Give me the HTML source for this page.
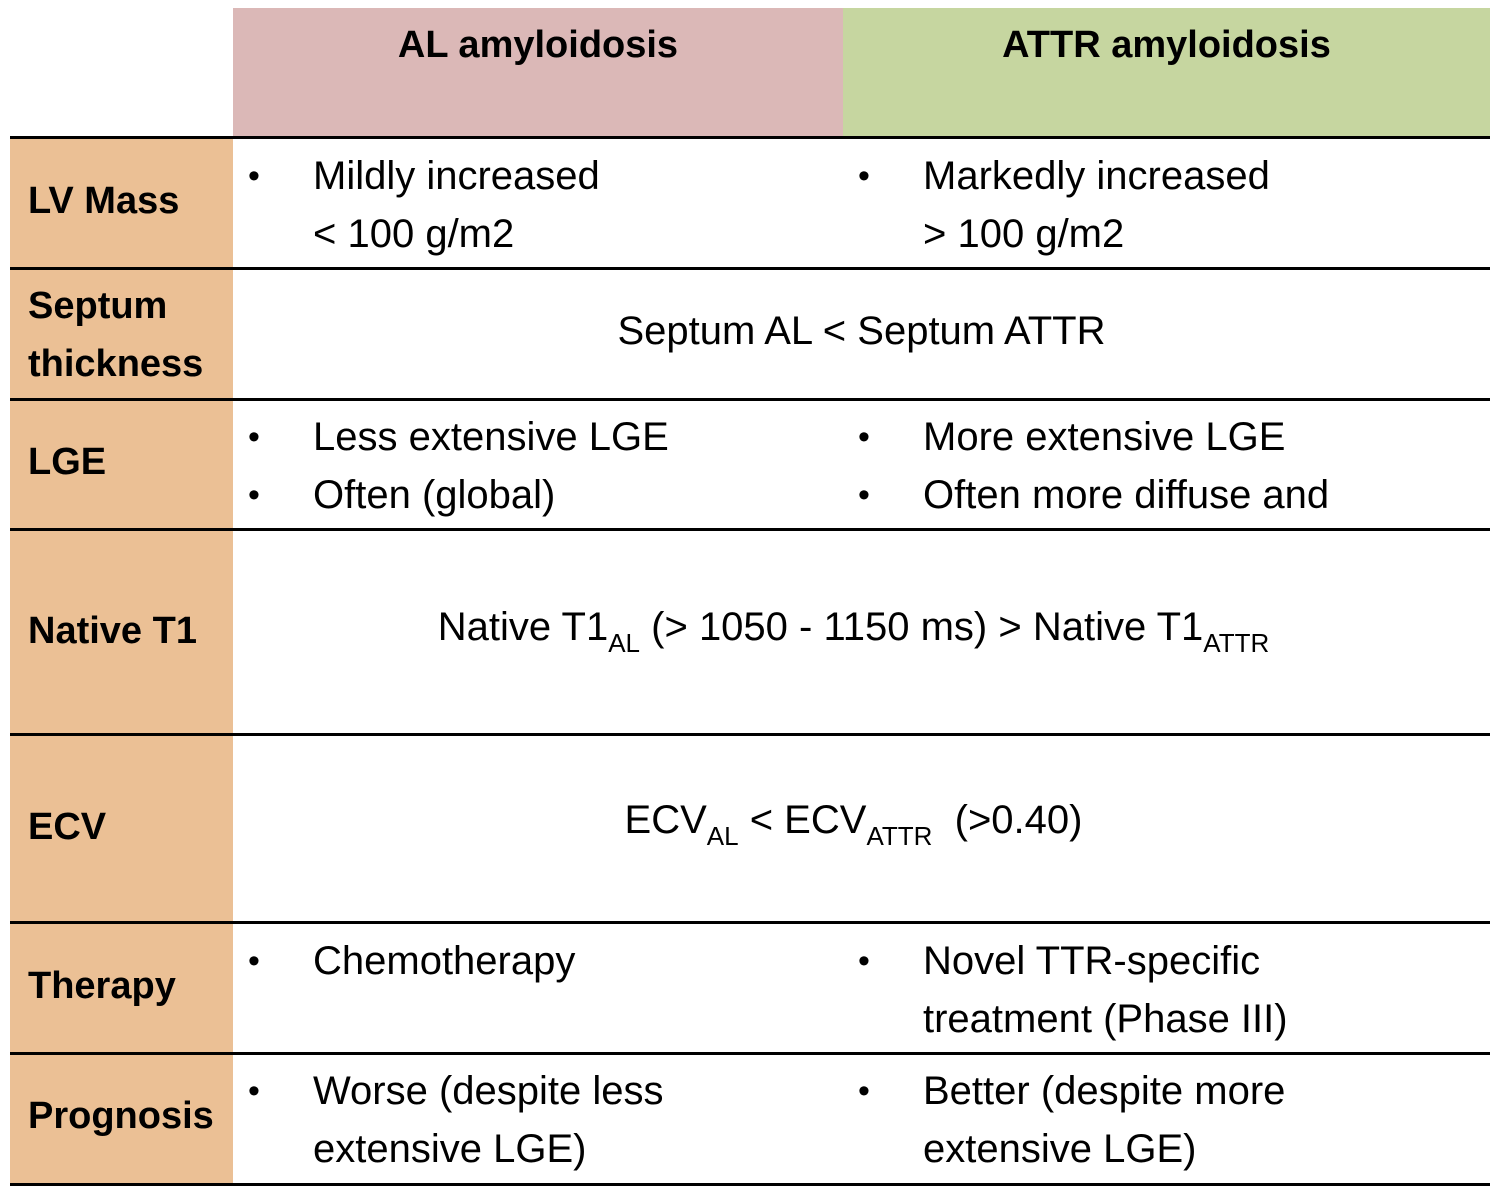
<!DOCTYPE html>
<html><head><meta charset="utf-8"><style>
body{margin:0;width:1500px;height:1198px;background:#fff;position:relative;overflow:hidden;font-family:"Liberation Sans",sans-serif;color:#000}
div{position:absolute}
.hl{left:10px;width:1480px;height:3px;background:#000}
.lab{left:28px;font-weight:bold;font-size:38px;line-height:58px;white-space:nowrap}
.t{font-size:40px;line-height:58px;white-space:nowrap}
.c{left:233px;width:1257px;text-align:center;font-size:40px;line-height:58px;white-space:nowrap}
.b{font-size:34px;line-height:58px}
sub{font-size:26px;vertical-align:-12px}
</style></head><body>
<div style="left:233px;top:8px;width:610px;height:129px;background:#dbb8b7"></div>
<div style="left:843px;top:8px;width:647px;height:129px;background:#c6d6a0"></div>
<div style="left:10px;top:137px;width:223px;height:1047px;background:#ebc095"></div>
<div class="t" style="left:233px;width:610px;text-align:center;top:16px;font-weight:bold;font-size:38px">AL amyloidosis</div>
<div class="t" style="left:843px;width:647px;text-align:center;top:16px;font-weight:bold;font-size:38px">ATTR amyloidosis</div>
<div class="hl" style="top:136px"></div>
<div class="hl" style="top:267px"></div>
<div class="hl" style="top:398px"></div>
<div class="hl" style="top:528px"></div>
<div class="hl" style="top:733px"></div>
<div class="hl" style="top:921px"></div>
<div class="hl" style="top:1052px"></div>
<div class="hl" style="top:1183px"></div>

<div class="lab" style="top:172px">LV Mass</div>
<div class="lab" style="top:277px">Septum<br>thickness</div>
<div class="lab" style="top:433px">LGE</div>
<div class="lab" style="top:602px">Native T1</div>
<div class="lab" style="top:798px">ECV</div>
<div class="lab" style="top:957px">Therapy</div>
<div class="lab" style="top:1087px">Prognosis</div>

<div class="t b" style="left:248px;top:147px">•</div>
<div class="t" style="left:313px;top:147px">Mildly increased<br>&lt; 100 g/m2</div>
<div class="t b" style="left:858px;top:147px">•</div>
<div class="t" style="left:923px;top:147px">Markedly increased<br>&gt; 100 g/m2</div>

<div class="c" style="top:302px;left:233px;width:1257px">Septum AL &lt; Septum ATTR</div>

<div class="t b" style="left:248px;top:408px">•<br>•</div>
<div class="t" style="left:313px;top:408px">Less extensive LGE<br>Often (global)</div>
<div class="t b" style="left:858px;top:408px">•<br>•</div>
<div class="t" style="left:923px;top:408px">More extensive LGE<br>Often more diffuse and</div>

<div class="c" style="top:598px;left:225px">Native T1<sub>AL</sub> (&gt; 1050 - 1150 ms) &gt; Native T1<sub>ATTR</sub></div>
<div class="c" style="top:791px;left:225px">ECV<sub>AL</sub> &lt; ECV<sub>ATTR</sub>&nbsp; (&gt;0.40)</div>

<div class="t b" style="left:248px;top:932px">•</div>
<div class="t" style="left:313px;top:932px">Chemotherapy</div>
<div class="t b" style="left:858px;top:932px">•</div>
<div class="t" style="left:923px;top:932px">Novel TTR-specific<br>treatment (Phase III)</div>

<div class="t b" style="left:248px;top:1062px">•</div>
<div class="t" style="left:313px;top:1062px">Worse (despite less<br>extensive LGE)</div>
<div class="t b" style="left:858px;top:1062px">•</div>
<div class="t" style="left:923px;top:1062px">Better (despite more<br>extensive LGE)</div>
</body></html>
